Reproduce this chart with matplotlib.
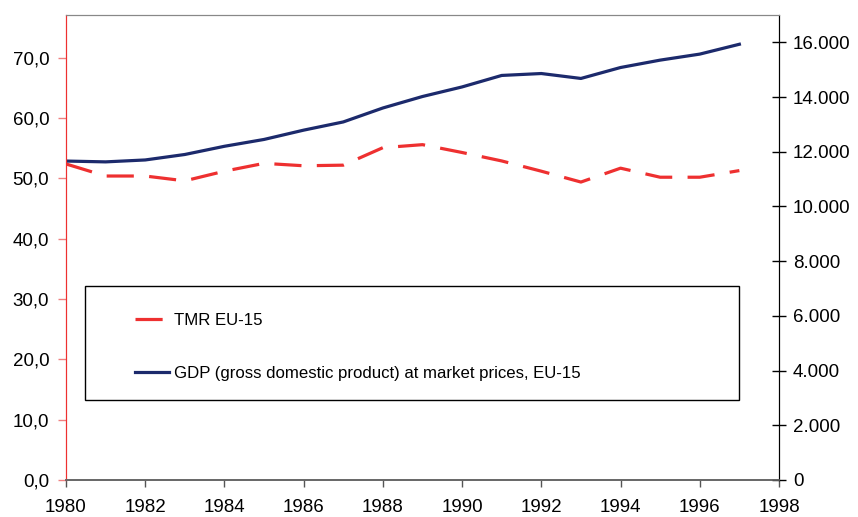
import numpy as np
import matplotlib.pyplot as plt
from matplotlib.patches import Rectangle
from matplotlib.ticker import FuncFormatter, MultipleLocator

plt.rcParams['font.family'] = ['Liberation Sans', 'DejaVu Sans']

# TMR (left axis) and GDP in billion ECU (right axis), EU-15
years = np.arange(1980, 1998)
tmr = [52.4, 50.4, 50.4, 49.6, 51.2, 52.5, 52.1, 52.2, 55.1, 55.6,
       54.3, 52.9, 51.2, 49.4, 51.7, 50.2, 50.2, 51.3]
gdp = [11660, 11630, 11700, 11900, 12200, 12450, 12790, 13090, 13600, 14020,
       14370, 14790, 14860, 14680, 15080, 15350, 15570, 15930]

red = '#EE3030'
navy = '#1C2A6C'

fig = plt.figure(figsize=(8.58, 5.17), dpi=100)
ax = fig.add_axes([0.0769, 0.0716, 0.831, 0.8994])
ax2 = ax.twinx()

l1, = ax.plot(years, tmr, color=red, lw=2.3, linestyle=(0, (8.5, 4.8)),
              label='TMR EU-15')
l2, = ax2.plot(years, gdp, color=navy, lw=2.3,
               label='GDP (gross domestic product) at market prices, EU-15')

ax.set_xlim(1980, 1998)
ax.set_ylim(0, 77.1)
ax2.set_ylim(0, 17000)
ax.xaxis.set_major_locator(MultipleLocator(2))
ax.yaxis.set_major_locator(MultipleLocator(10))
ax2.yaxis.set_major_locator(MultipleLocator(2000))

ax.yaxis.set_major_formatter(FuncFormatter(lambda v, p: f'{v:.1f}'.replace('.', ',')))
ax2.yaxis.set_major_formatter(FuncFormatter(lambda v, p: f'{v:,.0f}'.replace(',', '.')))

# spines
for a in (ax, ax2):
    a.spines['top'].set_color('#888888')
    a.spines['bottom'].set_color('#666666')
    a.spines['left'].set_color(red)
    a.spines['right'].set_color('black')
    a.spines['bottom'].set_linewidth(1.2)

ax.tick_params(axis='y', colors='#F08080', labelcolor='black', length=6,
               width=1, labelsize=13.5, pad=6)
ax.tick_params(axis='x', colors='#555555', labelcolor='black', length=5,
               width=1, labelsize=13.5, pad=9)
ax2.tick_params(axis='y', direction='inout', length=10, width=1,
                labelsize=13.5, pad=5)

# legend box
ax2.add_patch(Rectangle((0.0267, 0.172), 0.917, 0.245, transform=ax2.transAxes,
                        facecolor='white', edgecolor='black', lw=1, zorder=3))
leg = ax2.legend(handles=[l1, l2], loc='upper left',
                 bbox_to_anchor=(0.0845, 0.378), frameon=False, fontsize=12.1,
                 handlelength=2.05, handletextpad=0.3, labelspacing=2.3,
                 borderpad=0)
leg.set_zorder(4)

fig.savefig('out.png', dpi=100)
